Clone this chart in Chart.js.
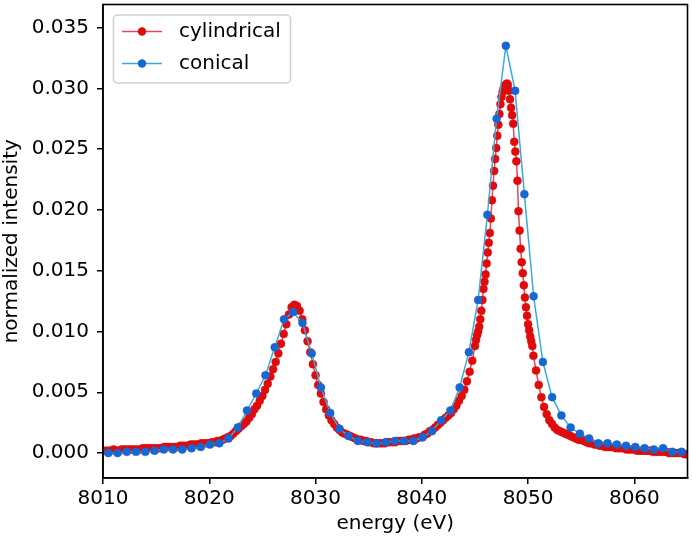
<!DOCTYPE html>
<html>
<head>
<meta charset="utf-8">
<script src="https://cdn.jsdelivr.net/npm/chart.js@4.4.1/dist/chart.umd.min.js"></script>
<style>
html,body{margin:0;padding:0;background:#fff;}
</style>
</head>
<body>
<canvas id="spectrumChart" width="692" height="540"></canvas>
<script>
// DATA

const xTicks = [8010, 8020, 8030, 8040, 8050, 8060]
const yTicks = [0, 0.005, 0.01, 0.015, 0.02, 0.025, 0.03, 0.035]

const conicalEnergy = [
8010.50, 8011.37, 8012.24, 8013.11, 8013.98, 8014.85, 8015.72, 8016.59, 8017.46, 8018.33,
8019.20, 8020.07, 8020.94, 8021.81, 8022.68, 8023.55, 8024.42, 8025.29, 8026.16, 8027.03,
8027.90, 8028.77, 8029.64, 8030.51, 8031.38, 8032.25, 8033.12, 8033.99, 8034.86, 8035.73,
8036.60, 8037.47, 8038.34, 8039.21, 8040.08, 8040.95, 8041.82, 8042.69, 8043.56, 8044.43,
8045.30, 8046.17, 8047.04, 8047.91, 8048.78, 8049.65, 8050.52, 8051.39, 8052.26, 8053.13,
8054.00, 8054.87, 8055.74, 8056.61, 8057.48, 8058.35, 8059.22, 8060.09, 8060.96, 8061.83,
8062.70, 8063.57, 8064.44
]
const conicalIntensity = [
0.0000, 0.0000, 0.0001, 0.0001, 0.0001, 0.0002, 0.0003, 0.0003, 0.0003, 0.0004,
0.0005, 0.0007, 0.0008, 0.0012, 0.0021, 0.0035, 0.0049, 0.0064, 0.0087, 0.0110,
0.0116, 0.0107, 0.0082, 0.0054, 0.0033, 0.0020, 0.0014, 0.0010, 0.0009, 0.0008,
0.0009, 0.0010, 0.0010, 0.0010, 0.0013, 0.0018, 0.0027, 0.0035, 0.0054, 0.0083,
0.0126, 0.0196, 0.0275, 0.0335, 0.0298, 0.0213, 0.0129, 0.0075, 0.0046, 0.0031,
0.0021, 0.0016, 0.0012, 0.0008, 0.0008, 0.0007, 0.0006, 0.0005, 0.0004, 0.0003,
0.0004, 0.0001, 0.0001
]

const cylindricalEnergy = [
8010.0, 8010.25, 8010.5, 8010.75, 8011.0, 8011.25, 8011.5, 8011.75, 8012.0, 8012.25, 8012.5, 8012.75,
8013.0, 8013.25, 8013.5, 8013.75, 8014.0, 8014.25, 8014.5, 8014.75, 8015.0, 8015.25, 8015.5, 8015.75,
8016.0, 8016.25, 8016.5, 8016.75, 8017.0, 8017.25, 8017.5, 8017.75, 8018.0, 8018.25, 8018.5, 8018.75,
8019.0, 8019.25, 8019.5, 8019.75, 8020.0, 8020.25, 8020.5, 8020.75, 8021.0, 8021.25, 8021.5,
8021.75, 8022.0, 8022.25, 8022.5, 8022.75, 8023.0, 8023.25, 8023.5, 8023.75, 8024.0,
8024.25, 8024.5, 8024.75, 8025.0, 8025.25, 8025.5, 8025.75, 8026.0, 8026.25, 8026.5,
8026.75, 8027.0, 8027.25, 8027.5, 8027.75, 8028.0, 8028.25, 8028.5, 8028.75, 8029.0,
8029.25, 8029.5, 8029.75, 8030.0, 8030.25, 8030.5, 8030.75, 8031.0, 8031.25, 8031.5,
8031.75, 8032.0, 8032.25, 8032.5, 8032.75, 8033.0, 8033.25, 8033.5, 8033.75, 8034.0,
8034.25, 8034.5, 8034.75, 8035.0, 8035.25, 8035.5, 8035.75, 8036.0,
8036.25, 8036.5, 8036.75, 8037.0, 8037.25, 8037.5, 8037.75, 8038.0,
8038.25, 8038.5, 8038.75, 8039.0, 8039.25, 8039.5, 8039.75, 8040.0,
8040.25, 8040.5, 8040.75, 8041.0, 8041.25, 8041.5, 8041.75, 8042.0,
8042.25, 8042.5, 8042.75, 8043.0, 8043.25, 8043.5, 8043.75, 8044.0, 8044.25, 8044.5, 8044.75, 8045.0,
8045.1, 8045.2, 8045.3, 8045.4, 8045.5, 8045.6, 8045.7, 8045.8, 8045.9, 8046.0,
8046.1, 8046.2, 8046.3, 8046.4, 8046.5, 8046.6, 8046.7, 8046.8, 8046.9, 8047.0,
8047.1, 8047.2, 8047.3, 8047.4, 8047.5, 8047.6, 8047.7, 8047.8, 8047.9, 8048.0,
8048.1, 8048.2, 8048.3, 8048.4, 8048.5, 8048.6, 8048.7, 8048.8, 8048.9, 8049.0,
8049.1, 8049.2, 8049.3, 8049.4, 8049.5, 8049.6, 8049.7, 8049.8, 8049.9, 8050.0,
8050.1, 8050.2, 8050.3, 8050.4, 8050.5,
8050.75, 8051.0, 8051.25, 8051.5, 8051.75, 8052.0, 8052.25, 8052.5, 8052.75, 8053.0,
8053.25, 8053.5, 8053.75, 8054.0, 8054.25, 8054.5, 8054.75, 8055.0, 8055.25, 8055.5, 8055.75, 8056.0,
8056.25, 8056.5, 8056.75, 8057.0, 8057.25, 8057.5, 8057.75, 8058.0, 8058.25, 8058.5, 8058.75, 8059.0,
8059.25, 8059.5, 8059.75, 8060.0, 8060.25, 8060.5, 8060.75, 8061.0, 8061.25, 8061.5, 8061.75, 8062.0,
8062.25, 8062.5, 8062.75, 8063.0, 8063.25, 8063.5, 8063.75, 8064.0, 8064.25, 8064.5, 8064.75, 8065.0
]
const cylindricalIntensity = [
0.0002, 0.0002, 0.0002, 0.0002, 0.0003, 0.0002, 0.0002, 0.0003, 0.0003, 0.0003, 0.0003, 0.0003,
0.0003, 0.0003, 0.0003, 0.0004, 0.0004, 0.0004, 0.0004, 0.0004, 0.0004, 0.0004, 0.0004, 0.0005,
0.0005, 0.0005, 0.0005, 0.0005, 0.0005, 0.0006, 0.0006, 0.0006, 0.0006, 0.0007, 0.0007, 0.0007,
0.0007, 0.0008, 0.0008, 0.0008, 0.0008, 0.0009, 0.0009, 0.0010, 0.0010, 0.0011, 0.0012,
0.0013, 0.0014, 0.0016, 0.0018, 0.0020, 0.0022, 0.0024, 0.0026, 0.0029, 0.0032,
0.0036, 0.0039, 0.0043, 0.0047, 0.0052, 0.0057, 0.0063, 0.0069, 0.0075, 0.0082,
0.0090, 0.0098, 0.0106, 0.0114, 0.0120, 0.0122, 0.0121, 0.0117, 0.0110, 0.0101,
0.0092, 0.0083, 0.0073, 0.0064, 0.0056, 0.0049, 0.0042, 0.0036, 0.0031, 0.0027,
0.0024, 0.0021, 0.0019, 0.0017, 0.0016, 0.0015, 0.0014, 0.0013, 0.0012, 0.0011,
0.0011, 0.0010, 0.0010, 0.0009, 0.0009, 0.0008, 0.0008, 0.0008,
0.0008, 0.0008, 0.0009, 0.0009, 0.0009, 0.0009, 0.0010, 0.0010,
0.0010, 0.0010, 0.0011, 0.0011, 0.0012, 0.0012, 0.0013, 0.0013,
0.0015, 0.0016, 0.0018, 0.0019, 0.0021, 0.0023, 0.0025, 0.0027,
0.0029, 0.0031, 0.0033, 0.0036, 0.0039, 0.0043, 0.0047, 0.0052, 0.0059, 0.0067, 0.0076, 0.0088,
0.0093, 0.0097, 0.0100, 0.0104, 0.0110, 0.0117, 0.0126, 0.0135, 0.0141, 0.0147,
0.0156, 0.0165, 0.0173, 0.0181, 0.0193, 0.0208, 0.0220, 0.0232, 0.0242, 0.0251,
0.0261, 0.0270, 0.0279, 0.0287, 0.0293, 0.0297, 0.0300, 0.0302, 0.0303, 0.0304,
0.0303, 0.0298, 0.0291, 0.0284, 0.0278, 0.0271, 0.0256, 0.0248, 0.0240, 0.0224,
0.0199, 0.0183, 0.0168, 0.0157, 0.0148, 0.0138, 0.0128, 0.0120, 0.0113, 0.0106,
0.0101, 0.0096, 0.0092, 0.0088, 0.0080,
0.0068, 0.0056, 0.0046, 0.0038, 0.0032, 0.0027, 0.0024, 0.0021, 0.0019, 0.0018,
0.0017, 0.0016, 0.0015, 0.0014, 0.0013, 0.0012, 0.0011, 0.0011, 0.0010, 0.0009, 0.0008, 0.0008,
0.0007, 0.0007, 0.0006, 0.0006, 0.0005, 0.0005, 0.0005, 0.0005, 0.0004, 0.0004, 0.0004, 0.0004,
0.0003, 0.0003, 0.0003, 0.0003, 0.0002, 0.0002, 0.0002, 0.0002, 0.0002, 0.0002, 0.0001, 0.0001,
0.0001, 0.0001, 0.0001, 0.0001, 0.0000, 0.0000, 0.0000, 0.0000, 0.0000, 0.0000, -0.0001, -0.0001
]

// STYLE

const fontFamily = "'DejaVu Sans', sans-serif"
const fontSize = 20
const textColor = '#000'

const redLine = '#e8455f'
const redDot = '#e00b0b'
const blueLine = '#3aa9dd'
const blueDot = '#1766d2'

function toPoints(xs, ys){
  let pts = []
  for(let i=0;i<xs.length;i++){
    pts.push({x: xs[i], y: ys[i]})
  }
  return pts
}

// frame around the plot area, like matplotlib spines
const frameBox = {
  id: 'frameBox',
  afterDatasetsDraw(chart){
    const a = chart.chartArea
    const ctx = chart.ctx
    ctx.save()
    ctx.strokeStyle = '#000'
    ctx.lineWidth = 1.6
    ctx.strokeRect(a.left, a.top, a.right - a.left, a.bottom - a.top)
    ctx.restore()
  }
}

// legend box in the upper left corner
const legendBox = {
  id: 'legendBox',
  afterDraw(chart){
    const a = chart.chartArea
    const ctx = chart.ctx
    const bx = a.left + 10, by = a.top + 10, bw = 177, bh = 68
    ctx.save()
    ctx.beginPath()
    ctx.roundRect(bx + 0.5, by + 0.5, bw, bh, 4)
    ctx.fillStyle = 'rgba(255,255,255,0.85)'
    ctx.fill()
    ctx.strokeStyle = '#cfcfcf'
    ctx.lineWidth = 1.5
    ctx.stroke()
    const items = chart.data.datasets
    for(let i=0;i<items.length;i++){
      const ds = items[i]
      const y = by + 17 + i * 32
      ctx.beginPath()
      ctx.moveTo(bx + 9, y)
      ctx.lineTo(bx + 49, y)
      ctx.strokeStyle = ds.borderColor
      ctx.lineWidth = 1.5
      ctx.stroke()
      ctx.beginPath()
      ctx.arc(bx + 29, y, 4.2, 0, Math.PI * 2)
      ctx.fillStyle = ds.pointBackgroundColor
      ctx.fill()
      ctx.fillStyle = textColor
      ctx.font = fontSize + 'px ' + fontFamily
      ctx.textBaseline = 'middle'
      ctx.textAlign = 'left'
      ctx.fillText(ds.label, bx + 66, y)
    }
    ctx.restore()
  }
}

// CHART

const ctx = document.getElementById('spectrumChart')

new Chart(ctx, {

type: 'line',

data: {
  datasets: [
    {
      label: 'cylindrical',
      data: toPoints(cylindricalEnergy, cylindricalIntensity),
      borderColor: redLine,
      borderWidth: 1.5,
      pointRadius: 4,
      pointBackgroundColor: redDot,
      pointBorderColor: redDot,
      pointBorderWidth: 0.5,
      tension: 0,
      order: 2
    },
    {
      label: 'conical',
      data: toPoints(conicalEnergy, conicalIntensity),
      borderColor: blueLine,
      borderWidth: 1.5,
      pointRadius: 4,
      pointBackgroundColor: blueDot,
      pointBorderColor: blueDot,
      pointBorderWidth: 0.5,
      tension: 0,
      order: 1
    }
  ]
},

options: {
  responsive: false,
  animation: false,
  devicePixelRatio: 1,
  layout: {padding: {top: 2, right: 3, left: 0, bottom: 0}},
  plugins: {
    legend: {display: false},
    tooltip: {enabled: false}
  },
  scales: {
    x: {
      type: 'linear',
      min: 8010,
      max: 8065,
      afterBuildTicks: s => { s.ticks = xTicks.map(v => ({value: v})) },
      afterFit: s => { s.height = 62; s.paddingLeft = 0; s.paddingRight = 0 },
      ticks: {
        callback: v => String(v),
        font: {family: fontFamily, size: fontSize},
        color: textColor,
        padding: 3,
        maxRotation: 0,
        autoSkip: false
      },
      grid: {drawOnChartArea: false, drawTicks: true, tickLength: 6, color: '#000', lineWidth: 1.5},
      border: {display: true, color: '#000', width: 1.6},
      title: {display: true, text: 'energy (eV)', font: {family: fontFamily, size: fontSize}, color: textColor, padding: {top: 0, bottom: 4}}
    },
    y: {
      type: 'linear',
      min: -0.00205,
      max: 0.0369,
      afterBuildTicks: s => { s.ticks = yTicks.map(v => ({value: v})) },
      afterFit: s => { s.width = 103; s.paddingTop = 0; s.paddingBottom = 0 },
      ticks: {
        callback: v => v.toFixed(3),
        font: {family: fontFamily, size: fontSize},
        color: textColor,
        padding: 8
      },
      grid: {drawOnChartArea: false, drawTicks: true, tickLength: 6, color: '#000', lineWidth: 1.5},
      border: {display: true, color: '#000', width: 1.6},
      title: {display: true, text: 'normalized intensity', font: {family: fontFamily, size: fontSize}, color: textColor, padding: {top: 0, bottom: 0}}
    }
  }
},

plugins: [frameBox, legendBox]

})
</script>
</body>
</html>
